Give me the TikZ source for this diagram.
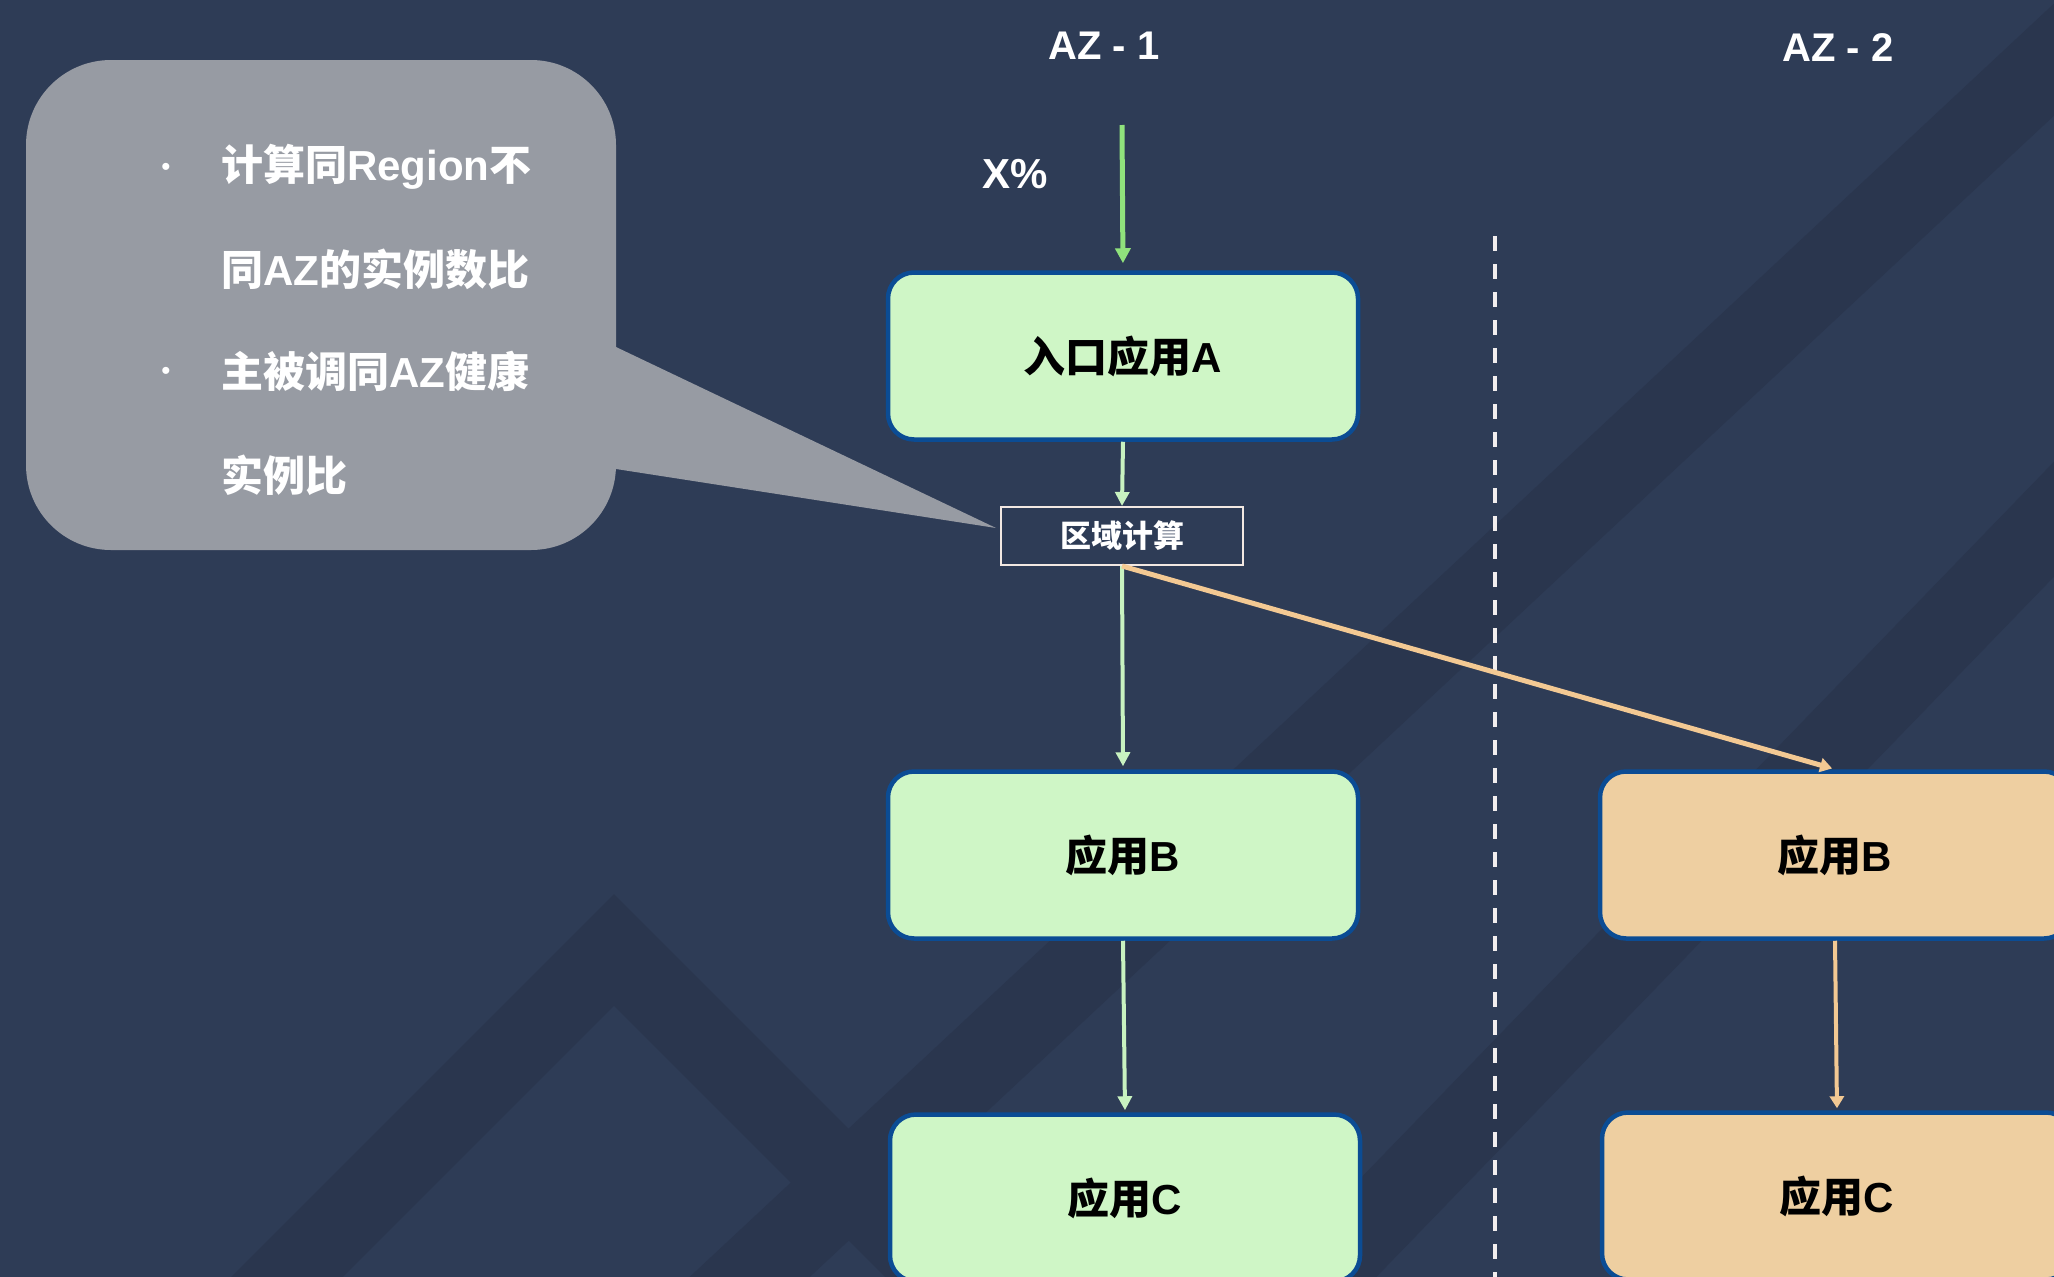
\documentclass[tikz,border=0pt]{standalone}
\usepackage{fontspec}
\setmainfont{Liberation Sans}
\newfontfamily\cjkfont{Noto Sans CJK SC}
\usetikzlibrary{arrows.meta}
\newcommand\zh[1]{{\cjkfont #1}}
\newcommand\fbig{\fontsize{42}{48}\selectfont\bfseries}
\newcommand\faz{\fontsize{40}{46}\selectfont\bfseries}
\newcommand\fcalc{\fontsize{31}{36}\selectfont\bfseries}
\definecolor{bgcol}{HTML}{2E3C56}
\definecolor{bandcol}{HTML}{2A364E}
\definecolor{calloutcol}{HTML}{979BA3}
\definecolor{boxblue}{HTML}{0B4C94}
\definecolor{appgreen}{HTML}{CFF6C6}
\definecolor{apporange}{HTML}{EECFA1}
\definecolor{ingreen}{HTML}{90E27C}
\definecolor{flowgreen}{HTML}{C8F2C0}
\definecolor{floworange}{HTML}{F3C993}
\definecolor{calcline}{HTML}{F2E8E2}
\definecolor{dashwhite}{HTML}{F2EEEE}
\begin{document}
\begin{tikzpicture}[x=1pt,y=-1pt,
  appbox/.style={draw=boxblue, line width=4.5pt, rounded corners=26pt, minimum width=470pt, minimum height=167pt, inner sep=0pt, text=black, font=\fbig},
  greenbox/.style={appbox, fill=appgreen},
  orangebox/.style={appbox, fill=apporange},
  lbl/.style={text=white, font=\fbig, inner sep=0pt},
  azlbl/.style={text=white, font=\faz, inner sep=0pt},
  bul/.style={text=white, font=\fontsize{26}{28}\selectfont, inner sep=0pt},
  calcbox/.style={draw=calcline, line width=2pt, minimum width=242pt, minimum height=58pt, inner sep=0pt, text=white, font=\fcalc},
  flowin/.style={draw=ingreen, line width=5pt, -{Triangle[width=15pt,length=15pt]}},
  flowg/.style={draw=flowgreen, line width=4pt, -{Triangle[width=14pt,length=14pt]}},
  flowo/.style={draw=floworange, line width=5pt, -{Triangle[width=14pt,length=12pt]}},
  azline/.style={draw=dashwhite, line width=4pt, dash pattern=on 15pt off 13pt},
  band/.style={draw=bandcol, line cap=butt},
]
% background
\useasboundingbox (0,0) rectangle (2054,1277);
\fill[bgcol] (0,0) rectangle (2054,1277);
\begin{scope}
  \clip (0,0) rectangle (2054,1277);
  \draw[band, line width=79pt] (214,1350) -- (614,950) -- (1114,1450);
  \draw[band, line width=82pt] (680,1342) -- (2150,-30);
  \draw[band, line width=80pt] (1250,1350) -- (2150,420);
\end{scope}

% callout
\fill[calloutcol, rounded corners=85pt] (26,60) rectangle (616,550);
\coordinate (tip) at (996,528);
\fill[calloutcol] (560,347) -- (616,347) -- (tip) -- (616,469) -- (560,469) -- cycle;
\node[bul] (b1) at (166,169) {•};
\node[bul] (b2) at (166,373) {•};
\node[lbl, anchor=west] (t1) at (221,167) {\zh{计算同}Region\zh{不}};
\node[lbl, anchor=west] (t2) at (221,269) {\zh{同}AZ\zh{的实例数比}};
\node[lbl, anchor=west] (t3) at (221,371) {\zh{主被调同}AZ\zh{健康}};
\node[lbl, anchor=west] (t4) at (221,475) {\zh{实例比}};

% labels
\node[azlbl] (az1) at (1104,46) {AZ - 1};
\node[azlbl] (az2) at (1838,48) {AZ - 2};
\node[lbl] (xp) at (1015,174) {X\%};

% AZ separator
\coordinate (d1) at (1495,236);
\coordinate (d2) at (1495,1290);
\draw[azline] (d1) -- (d2);

% boxes
\node[greenbox] (A) at (1123,356) {\zh{入口应用}A};
\node[calcbox] (calc) at (1122,536) {\zh{区域计算}};
\node[greenbox] (B1) at (1123,855) {\zh{应用}B};
\node[greenbox] (C1) at (1125,1198) {\zh{应用}C};
\node[orangebox] (B2) at (1835,855) {\zh{应用}B};
\node[orangebox] (C2) at (1837,1196) {\zh{应用}C};

% connectors
\coordinate (src) at (1122,125);
\draw[flowin, shorten >=7pt] (src) -- (A.north);
\draw[flowg] (A.south) -- (calc.north);
\draw[flowg, shorten >=3pt] (calc.south) -- (B1.north);
\draw[flowo, shorten >=3pt] (calc.south) -- (B2.north);
\draw[flowg, shorten >=2pt] (B1.south) -- (C1.north);
\draw[flowo, line width=4pt, shorten >=2pt] (B2.south) -- (C2.north);
\end{tikzpicture}
\end{document}
